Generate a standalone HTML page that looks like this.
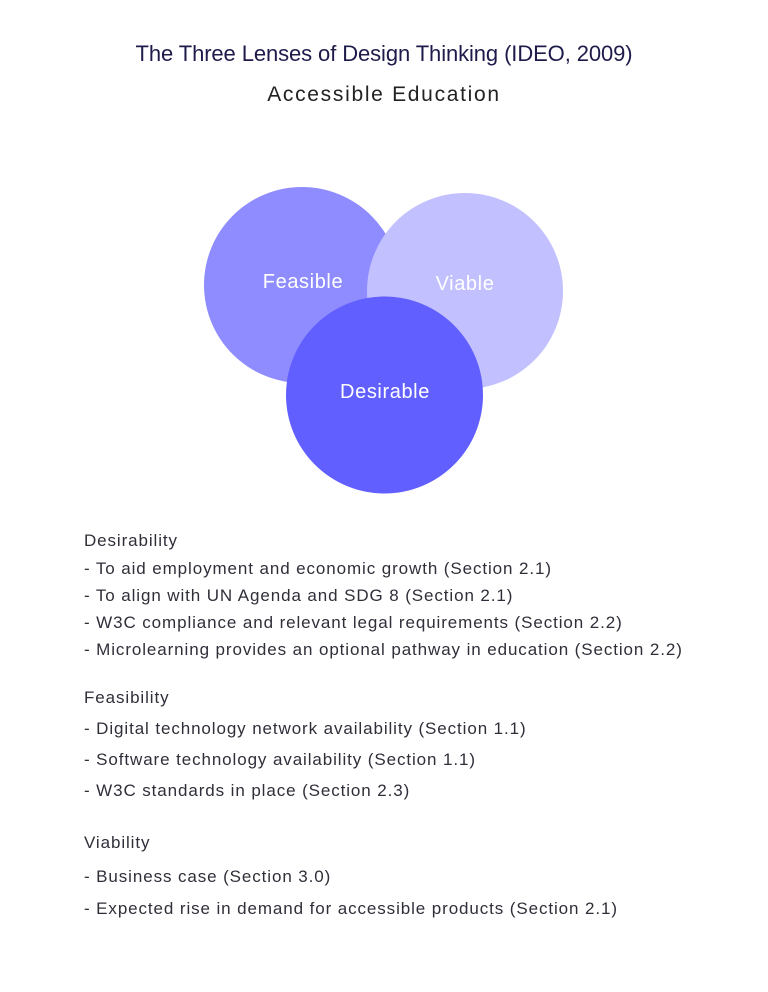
<!DOCTYPE html>
<html><head><style>
body{margin:0;width:768px;height:992px;background:#fff;position:relative;font-family:"Liberation Sans",sans-serif;overflow:hidden}
.t{position:absolute;left:0;width:768px;text-align:center;color:#1e1b4b}
.l{position:absolute;left:84px;font-size:17px;color:#2f2f3a;white-space:nowrap;letter-spacing:0.9px}
</style></head><body>
<div class="t" style="top:41px;font-size:22px;letter-spacing:-0.1px">The Three Lenses of Design Thinking (IDEO, 2009)</div>
<div class="t" style="top:83px;font-size:21px;color:#222;letter-spacing:1.7px">Accessible Education</div>
<svg width="768" height="992" style="position:absolute;left:0;top:0">
<circle cx="302" cy="285" r="98" fill="#8f8cff"/>
<circle cx="465" cy="291" r="98" fill="#c2c0ff"/>
<circle cx="384.5" cy="395" r="98.5" fill="#615fff"/>
<g font-family="Liberation Sans,sans-serif" font-size="20" fill="#fff" text-anchor="middle" letter-spacing="0.6">
<text x="303" y="288">Feasible</text>
<text x="465" y="290">Viable</text>
<text x="385" y="398">Desirable</text>
</g>
</svg>
<div class="l" style="top:531px">Desirability</div>
<div class="l" style="top:559px">- To aid employment and economic growth (Section 2.1)</div>
<div class="l" style="top:586px">- To align with UN Agenda and SDG 8 (Section 2.1)</div>
<div class="l" style="top:613px">- W3C compliance and relevant legal requirements (Section 2.2)</div>
<div class="l" style="top:640px">- Microlearning provides an optional pathway in education (Section 2.2)</div>
<div class="l" style="top:688px">Feasibility</div>
<div class="l" style="top:719px">- Digital technology network availability (Section 1.1)</div>
<div class="l" style="top:750px">- Software technology availability (Section 1.1)</div>
<div class="l" style="top:781px">- W3C standards in place (Section 2.3)</div>
<div class="l" style="top:833px">Viability</div>
<div class="l" style="top:867px">- Business case (Section 3.0)</div>
<div class="l" style="top:899px">- Expected rise in demand for accessible products (Section 2.1)</div>
</body></html>
